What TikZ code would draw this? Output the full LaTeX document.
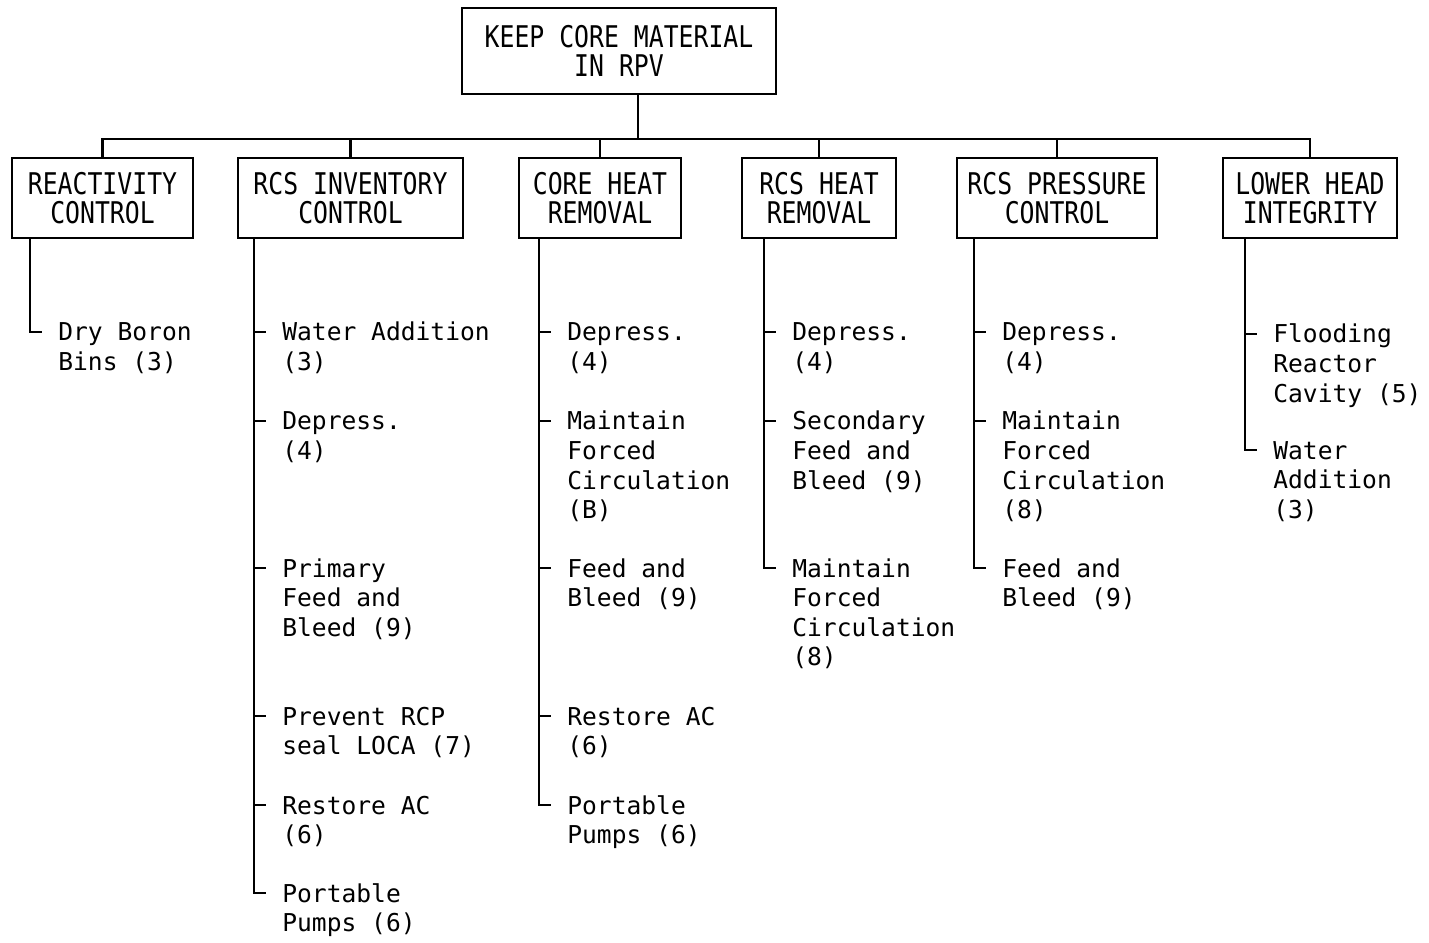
\documentclass[tikz,border=0pt]{standalone}
\usepackage{fontspec}
\newfontfamily\leaffont{DejaVu Sans Mono}
\newfontfamily\headfont[FakeStretch=0.83]{DejaVu Sans Mono}
\usetikzlibrary{calc}

% first line of a strategy carries the node's baseline
\newcommand{\strat}[1]{\begin{tabular}[t]{@{}l@{}}#1\end{tabular}}

\tikzset{
  func/.style={draw, line width=1.2pt, align=center, inner sep=0pt, minimum height=1.6cm,
    font=\headfont\fontsize{17}{16.5}\selectfont},
  leaf/.style={anchor=base west, inner sep=0pt,
    font=\leaffont\fontsize{14}{16.8}\selectfont},
  link/.style={line width=1.2pt},
}

\begin{document}
\begin{tikzpicture}
\useasboundingbox (0,0) rectangle (28.58,-18.86);

% top function

\node[func, minimum width=6.28cm, minimum height=1.72cm] (keep) at (12.38,-1.02) {KEEP CORE MATERIAL\\IN RPV};

% sub functions

\node[func, minimum width=3.62cm] (react) at (2.05,-3.96) {REACTIVITY\\CONTROL};
\node[func, minimum width=4.5cm] (inv) at (7.01,-3.96) {RCS INVENTORY\\CONTROL};
\node[func, minimum width=3.24cm] (core) at (12.0,-3.96) {CORE HEAT\\REMOVAL};
\node[func, minimum width=3.08cm] (rcsheat) at (16.38,-3.96) {RCS HEAT\\REMOVAL};
\node[func, minimum width=4.0cm] (press) at (21.14,-3.96) {RCS PRESSURE\\CONTROL};
\node[func, minimum width=3.48cm] (head) at (26.2,-3.96) {LOWER HEAD\\INTEGRITY};

% strategies

\node[leaf] (boron) at (1.16,-6.82) {\strat{Dry Boron\\Bins (3)}};

\node[leaf] (inv1) at (5.64,-6.82) {\strat{Water Addition\\(3)}};
\node[leaf] (inv2) at (5.64,-8.60) {\strat{Depress.\\(4)}};
\node[leaf] (inv3) at (5.64,-11.54) {\strat{Primary\\Feed and\\Bleed (9)}};
\node[leaf] (inv4) at (5.64,-14.50) {\strat{Prevent RCP\\seal LOCA (7)}};
\node[leaf] (inv5) at (5.64,-16.28) {\strat{Restore AC\\(6)}};
\node[leaf] (inv6) at (5.64,-18.04) {\strat{Portable\\Pumps (6)}};

\node[leaf] (core1) at (11.34,-6.82) {\strat{Depress.\\(4)}};
\node[leaf] (core2) at (11.34,-8.60) {\strat{Maintain\\Forced\\Circulation\\(B)}};
\node[leaf] (core3) at (11.34,-11.54) {\strat{Feed and\\Bleed (9)}};
\node[leaf] (core4) at (11.34,-14.50) {\strat{Restore AC\\(6)}};
\node[leaf] (core5) at (11.34,-16.28) {\strat{Portable\\Pumps (6)}};

\node[leaf] (heat1) at (15.84,-6.82) {\strat{Depress.\\(4)}};
\node[leaf] (heat2) at (15.84,-8.60) {\strat{Secondary\\Feed and\\Bleed (9)}};
\node[leaf] (heat3) at (15.84,-11.54) {\strat{Maintain\\Forced\\Circulation\\(8)}};

\node[leaf] (press1) at (20.04,-6.82) {\strat{Depress.\\(4)}};
\node[leaf] (press2) at (20.04,-8.60) {\strat{Maintain\\Forced\\Circulation\\(8)}};
\node[leaf] (press3) at (20.04,-11.54) {\strat{Feed and\\Bleed (9)}};

\node[leaf] (head1) at (25.46,-6.86) {\strat{Flooding\\Reactor\\Cavity (5)}};
\node[leaf] (head2) at (25.46,-9.18) {\strat{Water\\Addition\\(3)}};

% edges

\coordinate (bus) at ($(keep.south)+(0.38,-0.88)$);
\draw[link] ([xshift=0.38cm]keep.south) -- (bus);
\draw[link] (react.north) |- (bus) -| (head.north);
\foreach \fn in {inv,core,rcsheat,press}
  \draw[link] (\fn.north) -- (\fn.north |- bus);

\foreach \fn/\first/\last in {react/boron/boron, inv/inv1/inv6, core/core1/core5,
    rcsheat/heat1/heat3, press/press1/press3, head/head1/head2} {
  \coordinate (top) at ($(\first.base west)+(-0.56,0.18)$);
  \coordinate (end) at ($(\last.base west)+(-0.56,0.18)$);
  \draw[link] (top |- \fn.south) |- ($(end)+(0.24,0)$);
}

\foreach \n in {inv1,inv2,inv3,inv4,inv5,core1,core2,core3,core4,
    heat1,heat2,press1,press2,head1}
  \draw[link] ($(\n.base west)+(-0.56,0.18)$) -- ++(0.24,0);

\end{tikzpicture}
\end{document}
